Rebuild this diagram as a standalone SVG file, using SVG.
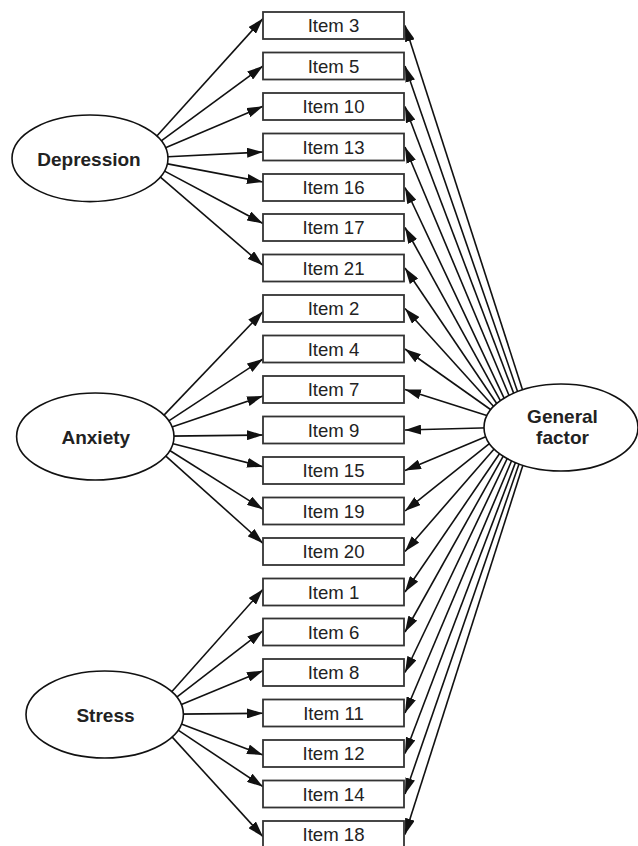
<svg xmlns="http://www.w3.org/2000/svg" width="638" height="846" viewBox="0 0 638 846">
<style>
.box{fill:#fff;stroke:#333;stroke-width:1.8}
.lat{fill:#fff;stroke:#111;stroke-width:1.6}
.it{font-family:"Liberation Sans",Arial,sans-serif;font-size:18.6px;fill:#222;text-anchor:middle}
.lt{font-family:"Liberation Sans",Arial,sans-serif;font-size:19px;font-weight:bold;fill:#222;text-anchor:middle}
#connectors line{stroke:#111;stroke-width:1.6;marker-end:url(#ah)}
</style>
<defs>
<marker id="ah" viewBox="0 0 16 10" refX="16" refY="5" markerWidth="16" markerHeight="10" markerUnits="userSpaceOnUse" orient="auto">
<path d="M0,0 L16,5 L0,10 z" fill="#111"/>
</marker>
</defs>
<rect width="638" height="846" fill="#fff"/>
<g id="connectors">
<line x1="153.7" y1="139.5" x2="263" y2="18.5"/>
<line x1="157.5" y1="143.6" x2="263" y2="66"/>
<line x1="160.2" y1="150" x2="263" y2="106.3"/>
<line x1="163" y1="157" x2="263" y2="152"/>
<line x1="162.4" y1="162.9" x2="263" y2="182"/>
<line x1="160.4" y1="168.9" x2="263" y2="223.5"/>
<line x1="157.2" y1="174.4" x2="263" y2="265.5"/>
<line x1="161.6" y1="417.6" x2="263" y2="311.5"/>
<line x1="165" y1="423.3" x2="263" y2="359"/>
<line x1="167.6" y1="428.6" x2="263" y2="396"/>
<line x1="169" y1="436.1" x2="263" y2="435"/>
<line x1="168.2" y1="442.5" x2="263" y2="466.7"/>
<line x1="166.6" y1="448.5" x2="263" y2="509.3"/>
<line x1="162.8" y1="453.3" x2="263" y2="543.3"/>
<line x1="169.3" y1="694.5" x2="263" y2="589.3"/>
<line x1="173.5" y1="699.7" x2="263" y2="630.7"/>
<line x1="177.2" y1="706.3" x2="263" y2="670.7"/>
<line x1="178" y1="714.1" x2="263" y2="713.3"/>
<line x1="176.1" y1="721.9" x2="263" y2="755"/>
<line x1="174" y1="727.4" x2="263" y2="786.7"/>
<line x1="169.3" y1="733.9" x2="263" y2="836.7"/>
<line x1="523.8" y1="393.7" x2="405" y2="25.5"/>
<line x1="519" y1="395.7" x2="405" y2="66"/>
<line x1="515.1" y1="397.1" x2="405" y2="106.5"/>
<line x1="510.3" y1="398.5" x2="405" y2="147"/>
<line x1="505.6" y1="401.4" x2="405" y2="187.5"/>
<line x1="501.9" y1="403.3" x2="405" y2="227.5"/>
<line x1="498.4" y1="406" x2="405" y2="268"/>
<line x1="495" y1="408" x2="405" y2="308.5"/>
<line x1="491.9" y1="410.5" x2="405" y2="349"/>
<line x1="490.7" y1="416.8" x2="405" y2="389.5"/>
<line x1="490" y1="427.8" x2="405" y2="430"/>
<line x1="490.5" y1="434.7" x2="405" y2="470.5"/>
<line x1="494.7" y1="439.3" x2="405" y2="511"/>
<line x1="498.9" y1="443.5" x2="405" y2="551.5"/>
<line x1="503.4" y1="448" x2="405" y2="592"/>
<line x1="505.9" y1="451.3" x2="405" y2="632"/>
<line x1="509.6" y1="453.6" x2="405" y2="672.5"/>
<line x1="513.8" y1="455.5" x2="405" y2="713"/>
<line x1="517.6" y1="456.9" x2="405" y2="753.5"/>
<line x1="521" y1="458.3" x2="405" y2="794"/>
<line x1="524.8" y1="459.3" x2="405" y2="834.5"/>
</g>
<g id="depression"><ellipse class="lat" cx="90" cy="158.3" rx="78" ry="43.3"/><text class="lt" x="89" y="165.5">Depression</text></g>
<g id="anxiety"><ellipse class="lat" cx="95.3" cy="436.5" rx="78.7" ry="43.5"/><text class="lt" x="95.8" y="443.5">Anxiety</text></g>
<g id="stress"><ellipse class="lat" cx="104.7" cy="714.5" rx="78.7" ry="43.5"/><text class="lt" x="105.5" y="721.5">Stress</text></g>
<g id="general"><ellipse class="lat" cx="561" cy="427.5" rx="77" ry="43.5"/><text class="lt" x="562.5" y="423.3">General</text><text class="lt" x="562.5" y="444.3">factor</text></g>
<g id="item3"><rect class="box" x="263" y="12" width="141" height="27"/><text class="it" x="333.5" y="32.3">Item 3</text></g>
<g id="item5"><rect class="box" x="263" y="52.5" width="141" height="27"/><text class="it" x="333.5" y="72.8">Item 5</text></g>
<g id="item10"><rect class="box" x="263" y="93" width="141" height="27"/><text class="it" x="333.5" y="113.3">Item 10</text></g>
<g id="item13"><rect class="box" x="263" y="133.5" width="141" height="27"/><text class="it" x="333.5" y="153.8">Item 13</text></g>
<g id="item16"><rect class="box" x="263" y="174" width="141" height="27"/><text class="it" x="333.5" y="194.3">Item 16</text></g>
<g id="item17"><rect class="box" x="263" y="214" width="141" height="27"/><text class="it" x="333.5" y="234.3">Item 17</text></g>
<g id="item21"><rect class="box" x="263" y="254.5" width="141" height="27"/><text class="it" x="333.5" y="274.8">Item 21</text></g>
<g id="item2"><rect class="box" x="263" y="295" width="141" height="27"/><text class="it" x="333.5" y="315.3">Item 2</text></g>
<g id="item4"><rect class="box" x="263" y="335.5" width="141" height="27"/><text class="it" x="333.5" y="355.8">Item 4</text></g>
<g id="item7"><rect class="box" x="263" y="376" width="141" height="27"/><text class="it" x="333.5" y="396.3">Item 7</text></g>
<g id="item9"><rect class="box" x="263" y="416.5" width="141" height="27"/><text class="it" x="333.5" y="436.8">Item 9</text></g>
<g id="item15"><rect class="box" x="263" y="457" width="141" height="27"/><text class="it" x="333.5" y="477.3">Item 15</text></g>
<g id="item19"><rect class="box" x="263" y="497.5" width="141" height="27"/><text class="it" x="333.5" y="517.8">Item 19</text></g>
<g id="item20"><rect class="box" x="263" y="538" width="141" height="27"/><text class="it" x="333.5" y="558.3">Item 20</text></g>
<g id="item1"><rect class="box" x="263" y="578.5" width="141" height="27"/><text class="it" x="333.5" y="598.8">Item 1</text></g>
<g id="item6"><rect class="box" x="263" y="618.5" width="141" height="27"/><text class="it" x="333.5" y="638.8">Item 6</text></g>
<g id="item8"><rect class="box" x="263" y="659" width="141" height="27"/><text class="it" x="333.5" y="679.3">Item 8</text></g>
<g id="item11"><rect class="box" x="263" y="699.5" width="141" height="27"/><text class="it" x="333.5" y="719.8">Item 11</text></g>
<g id="item12"><rect class="box" x="263" y="740" width="141" height="27"/><text class="it" x="333.5" y="760.3">Item 12</text></g>
<g id="item14"><rect class="box" x="263" y="780.5" width="141" height="27"/><text class="it" x="333.5" y="800.8">Item 14</text></g>
<g id="item18"><rect class="box" x="263" y="821" width="141" height="27"/><text class="it" x="333.5" y="841.3">Item 18</text></g>
</svg>
